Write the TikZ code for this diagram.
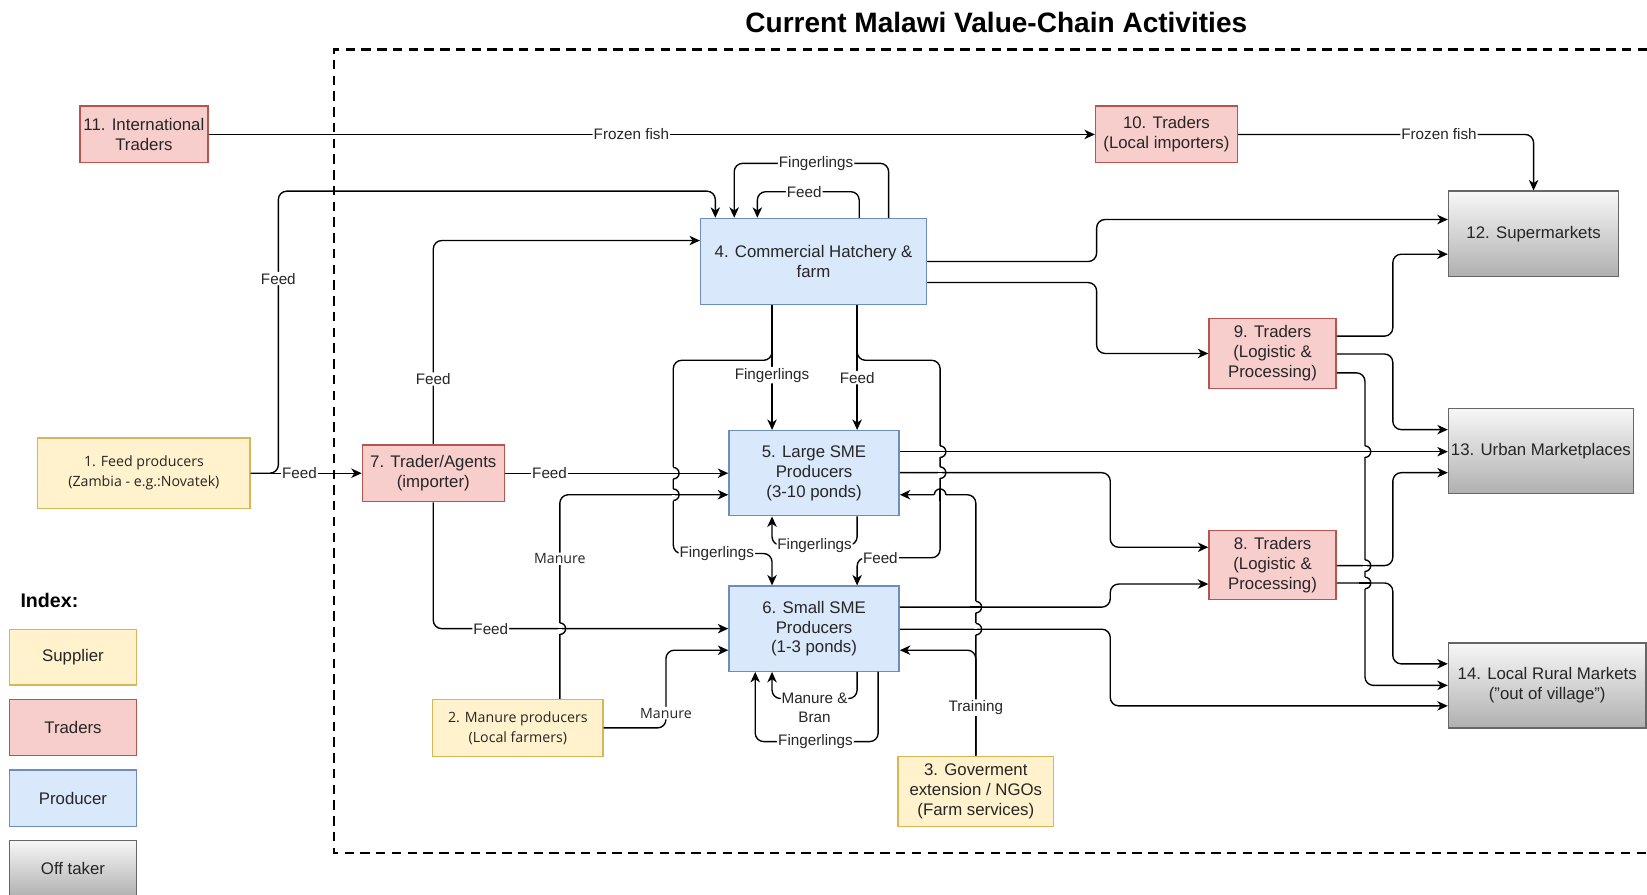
\documentclass[tikz,border=0pt]{standalone}
\usepackage{fontspec}
\setmainfont{Liberation Sans}
\newfontfamily\segoe{Open Sans}
\usetikzlibrary{arrows.meta}
\definecolor{supfill}{HTML}{FFF2CC}
\definecolor{supline}{HTML}{D6B656}
\definecolor{trdfill}{HTML}{F8CECC}
\definecolor{trdline}{HTML}{B85450}
\definecolor{prdfill}{HTML}{DAE8FC}
\definecolor{prdline}{HTML}{6C8EBF}
\definecolor{offtop}{HTML}{F7F7F7}
\definecolor{offbot}{HTML}{B0B0B0}
\definecolor{offline}{HTML}{666666}

\begin{document}
\begin{tikzpicture}
[x=1pt,y=-1pt,
 box/.style={draw,line width=1.3pt,inner sep=0pt,align=center,text=black!85,font=\fontsize{16}{19}\selectfont},
 supplier/.style={box,fill=supfill,draw=supline},
 trader/.style={box,fill=trdfill,draw=trdline},
 producer/.style={box,fill=prdfill,draw=prdline},
 offtaker/.style={box,top color=offtop,bottom color=offbot,draw=offline},
 segoetext/.style={font=\segoe\fontsize{13.5}{19}\selectfont},
 flow/.style={line width=1.3pt,rounded corners=8pt,-{Stealth[length=10pt,width=9pt,inset=3pt]}},
 lbl/.style={fill=white,inner sep=1pt,align=center,text=black!85,font=\fontsize{14.5}{18}\selectfont},
 borderline/.style={line width=2.6pt,dash pattern=on 9pt off 6pt},
 vjump/.pic={\fill[white] (-1.6,-5.5) rectangle (1.6,5.5);
   \draw[line width=1.3pt] (-6,0) -- (6,0);
   \draw[line width=1.3pt] (0,-5.5) arc[start angle=-90,end angle=90,radius=5.5];},
 hjump/.pic={\fill[white] (-5.5,-1.6) rectangle (5.5,1.6);
   \draw[line width=1.3pt] (0,-6) -- (0,6);
   \draw[line width=1.3pt] (5.5,0) arc[start angle=0,end angle=-180,radius=5.5];},
]
\useasboundingbox (0,0) rectangle (1568,852);

%Title and frame
\node (title) at (948.5,21)[font=\bfseries\fontsize{26.7}{30}\selectfont] {Current Malawi Value-Chain Activities};
\draw[borderline] (1568,47) -- (318,47) -- (318,812) -- (1568,812);

%Traders
\node (n11) at (137,128)[trader,minimum width=122pt,minimum height=54pt] {11. International\\Traders};
\node (n10) at (1110.5,128)[trader,minimum width=135pt,minimum height=54pt] {10. Traders\\(Local importers)};
\node (n7) at (412.5,450.5)[trader,minimum width=135pt,minimum height=54pt] {7. Trader/Agents\\(importer)};
\node (n9) at (1211.5,336.5)[trader,minimum width=121pt,minimum height=67pt] {9. Traders\\(Logistic \&\\Processing)};
\node (n8) at (1211.5,538)[trader,minimum width=121pt,minimum height=66pt] {8. Traders\\(Logistic \&\\Processing)};

%Off takers
\node (n12) at (1460,222.5)[offtaker,minimum width=162pt,minimum height=81pt] {12. Supermarkets};
\node (n13) at (1467,429.5)[offtaker,minimum width=176pt,minimum height=81pt] {13. Urban Marketplaces};
\node (n14) at (1473,652.5)[offtaker,minimum width=188pt,minimum height=81pt] {14. Local Rural Markets\\("out of village")};

%Producers
\node (n4) at (774.5,249)[producer,minimum width=215pt,minimum height=82pt] {4. Commercial Hatchery \&\\farm};
\node (n5) at (775,450.5)[producer,minimum width=162pt,minimum height=81pt] {5. Large SME\\Producers\\(3-10 ponds)};
\node (n6) at (775,598.5)[producer,minimum width=162pt,minimum height=81pt] {6. Small SME\\Producers\\(1-3 ponds)};

%Suppliers
\node (n1) at (137,450.5)[supplier,segoetext,minimum width=202pt,minimum height=67pt] {1. Feed producers\\(Zambia - e.g.:Novatek)};
\node (n2) at (493,693)[supplier,segoetext,minimum width=162pt,minimum height=54pt] {2. Manure producers\\(Local farmers)};
\node (n3) at (929,753.5)[supplier,minimum width=148pt,minimum height=67pt] {3. Goverment\\extension / NGOs\\(Farm services)};

%Index
\node (idx) at (16,572)[anchor=west,font=\bfseries\fontsize{18.7}{22}\selectfont] {Index:};
\node (lsup) at (69.5,625.5)[supplier,minimum width=121pt,minimum height=53pt] {Supplier};
\node (ltrd) at (69.5,692.5)[trader,minimum width=121pt,minimum height=53pt] {Traders};
\node (lprd) at (69.5,760)[producer,minimum width=121pt,minimum height=54pt] {Producer};
\node (loff) at (69.5,827)[offtaker,minimum width=121pt,minimum height=54pt] {Off taker};

%Frozen fish
\draw[flow] (n11.east) -- node[lbl,pos=0.477]{Frozen fish} (n10.west);
\draw[flow] (n10.east) -| node[lbl,pos=0.34]{Frozen fish} (n12.north);

%Feed from Zambia
\draw[flow] (n1.east) -- (265,450.5) -- node[lbl,pos=0.69]{Feed} (265,182) -- (681,182) -- (n4.north -| 681,0);
\draw[flow] (n1.east) -- node[lbl,pos=0.44]{Feed} (n7.west);
\draw[flow] (n7.north) -- node[lbl,pos=0.32]{Feed} (412.5,229) -- (n4.west |- 0,229);
\draw[flow] (n7.east) -- node[lbl,pos=0.2]{Feed} (n5.west);
\draw[flow] (n7.south) -- (412.5,598.5) -- node[lbl,pos=0.195]{Feed} (n6.west);

%Loops on the hatchery
\draw[flow] (n4.north -| 846,0) -- (846,155.5) -- node[lbl,pos=0.47]{Fingerlings} (699,155.5) -- (n4.north -| 699,0);
\draw[flow] (n4.north -| 818,0) -- (818,182.5) -- node[lbl,pos=0.54]{Feed} (721,182.5) -- (n4.north -| 721,0);

%Hatchery to producers
\draw[flow] (n4.south -| 735,0) -- node[lbl,pos=0.56]{Fingerlings} (n5.north -| 735,0);
\draw[flow] (n4.south -| 816,0) -- node[lbl,pos=0.58]{Feed} (n5.north -| 816,0);
\draw[flow] (n4.south -| 735,0) -- (735,343) -- (641,343) -- (641,527) -- node[lbl,pos=0.44]{Fingerlings} (735,527) -- (n6.north -| 735,0);
\draw[flow] (n4.south -| 816,0) -- (816,343) -- (895,343) -- (895,531) -- node[lbl,pos=0.72]{Feed} (816,531) -- (n6.north -| 816,0);

%Loops on the producers
\draw[flow] (n5.south -| 816,0) -- (816,519) -- node[lbl,pos=0.5]{Fingerlings} (735,519) -- (n5.south -| 735,0);
\draw[flow] (n6.south -| 816,0) -- (816,665) -- node[lbl,pos=0.5,yshift=-9pt]{Manure \&\\Bran} (735,665) -- (n6.south -| 735,0);
\draw[flow] (n6.south -| 836,0) -- (836,706) -- node[lbl,pos=0.51]{Fingerlings} (719,706) -- (n6.south -| 719,0);

%Manure
\draw[flow] (n2.north -| 533,0) -- (533,593) -- node[lbl,segoetext,pos=0.5]{Manure} (533,471) -- (n5.west |- 0,471);
\draw[flow] (n2.east) -- (634,693) -- node[lbl,segoetext,pos=0.19]{Manure} (634,619) -- (n6.west |- 0,619);

%Training
\draw[flow] (n3.north) -- (929,471) -- (n5.east |- 0,471);
\draw[flow] (n3.north) -- node[lbl,pos=0.455]{Training} (929,619) -- (n6.east |- 0,619);

%To the markets
\draw[flow] (n4.east) -- (1044,249) -- (1044,209) -- (n12.west |- 0,209);
\draw[flow] (n4.east |- 0,269) -- (1044,269) -- (1044,336.5) -- (n9.west);
\draw[flow] (n9.east |- 0,320) -- (1326,320) -- (1326,242) -- (n12.west |- 0,242);
\draw[flow] (n9.east |- 0,337) -- (1326,337) -- (1326,409) -- (n13.west |- 0,409);
\draw[flow] (n9.east |- 0,355) -- (1299.5,355) -- (1299.5,652.5) -- (n14.west);
\draw[flow] (n5.east |- 0,430) -- (n13.west |- 0,430);
\draw[flow] (n5.east |- 0,450) -- (1057,450) -- (1057,521) -- (n8.west |- 0,521);
\draw[flow] (n6.east |- 0,578) -- (1057,578) -- (1057,556) -- (n8.west |- 0,556);
\draw[flow] (n6.east |- 0,599) -- (1057,599) -- (1057,672) -- (n14.west |- 0,672);
\draw[flow] (n8.east |- 0,538.5) -- (1326,538.5) -- (1326,450) -- (n13.west |- 0,450);
\draw[flow] (n8.east |- 0,555) -- (1326,555) -- (1326,632) -- (n14.west |- 0,632);

%Line jumps
\foreach \x/\y in {641/450.5,641/471,895/430,895/450,929/578,929/599,533/598.5,1299.5/430,1299.5/538.5,1299.5/555}
  \pic at (\x,\y) {vjump};
\pic at (895,471) {hjump};

\end{tikzpicture}
\end{document}
